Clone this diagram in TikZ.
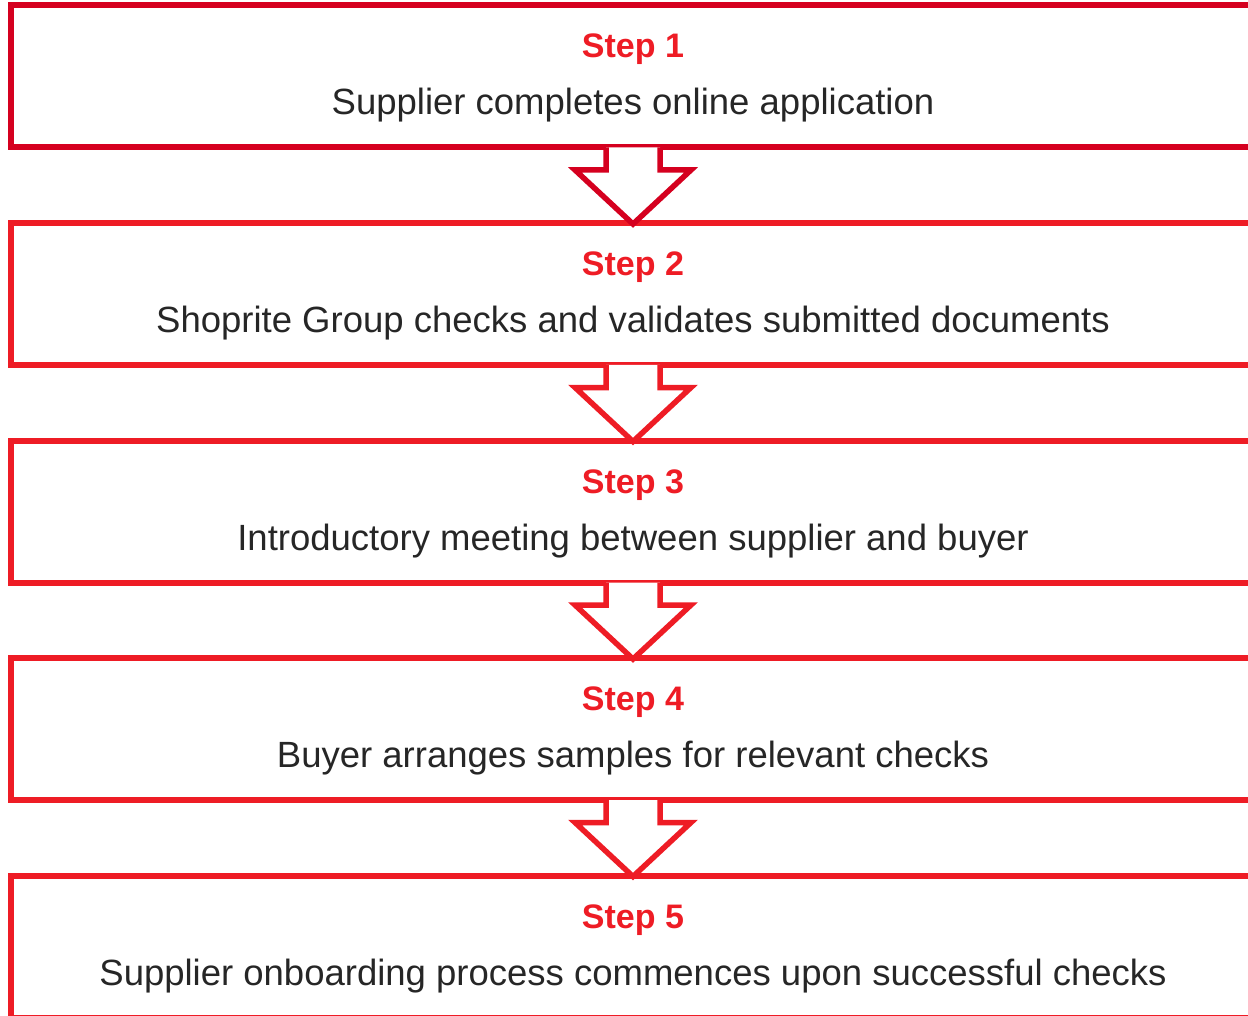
\documentclass[tikz,border=0pt]{standalone}
\usepackage{fontspec}
\setmainfont{Liberation Sans}
\usepackage{xcolor}
\usetikzlibrary{positioning}
\definecolor{stepred}{HTML}{EE1C25}
\definecolor{darkred}{HTML}{D5001F}
\definecolor{textgray}{HTML}{262626}
\tikzset{
	x=1pt, y=1pt, % one unit is one pixel of the layout
	stepbox/.style={draw=stepred, line width=6pt, minimum width=1244pt, minimum height=142pt, inner sep=0pt}, % the long boxes
	steplabel/.style={text=stepred, font=\fontsize{34}{40}\selectfont\bfseries, anchor=base}, % the red step title
	stepdesc/.style={text=textgray, font=\fontsize{36.5}{42}\selectfont, anchor=base}, % the text under the title
	downarrow/.style={draw=stepred, fill=white, line width=5.5pt, line join=miter}, % the hollow arrow between boxes
}

\begin{document}
\begin{tikzpicture}[node distance=217.5pt, on grid]
	\useasboundingbox (0,0) rectangle (1248,-1016);
	\clip (0,0) rectangle (1248,-1016);

	% Define the boxes
	\node[stepbox, draw=darkred] (b1) at (633,-76.5) {};
	\node[stepbox, below=of b1] (b2) {};
	\node[stepbox, below=of b2] (b3) {};
	\node[stepbox, below=of b3] (b4) {};
	\node[stepbox, below=of b4] (b5) {};

	% Texts
	\node[steplabel] (s1) at ([yshift=-55.5pt]b1.north) {Step 1};
	\node[stepdesc] (d1) at ([yshift=-112.5pt]b1.north) {Supplier completes online application};
	\node[steplabel] (s2) at ([yshift=-55.5pt]b2.north) {Step 2};
	\node[stepdesc] (d2) at ([yshift=-112.5pt]b2.north) {Shoprite Group checks and validates submitted documents};
	\node[steplabel] (s3) at ([yshift=-55.5pt]b3.north) {Step 3};
	\node[stepdesc] (d3) at ([yshift=-112.5pt]b3.north) {Introductory meeting between supplier and buyer};
	\node[steplabel] (s4) at ([yshift=-55.5pt]b4.north) {Step 4};
	\node[stepdesc] (d4) at ([yshift=-112.5pt]b4.north) {Buyer arranges samples for relevant checks};
	\node[steplabel] (s5) at ([yshift=-55.5pt]b5.north) {Step 5};
	\node[stepdesc] (d5) at ([yshift=-112.5pt]b5.north) {Supplier onboarding process commences upon successful checks};

	% Arrows
	\filldraw[downarrow, draw=darkred] ([xshift=-27pt, yshift=3pt]b1.south) -- ++(0,-22.5) -- ++(-31,0) -- ++(58,-54) -- ++(58,54) -- ++(-31,0) -- ++(0,22.5);
	\filldraw[downarrow] ([xshift=-27pt, yshift=3pt]b2.south) -- ++(0,-22.5) -- ++(-31,0) -- ++(58,-54) -- ++(58,54) -- ++(-31,0) -- ++(0,22.5);
	\filldraw[downarrow] ([xshift=-27pt, yshift=3pt]b3.south) -- ++(0,-22.5) -- ++(-31,0) -- ++(58,-54) -- ++(58,54) -- ++(-31,0) -- ++(0,22.5);
	\filldraw[downarrow] ([xshift=-27pt, yshift=3pt]b4.south) -- ++(0,-22.5) -- ++(-31,0) -- ++(58,-54) -- ++(58,54) -- ++(-31,0) -- ++(0,22.5);
\end{tikzpicture}
\end{document}
